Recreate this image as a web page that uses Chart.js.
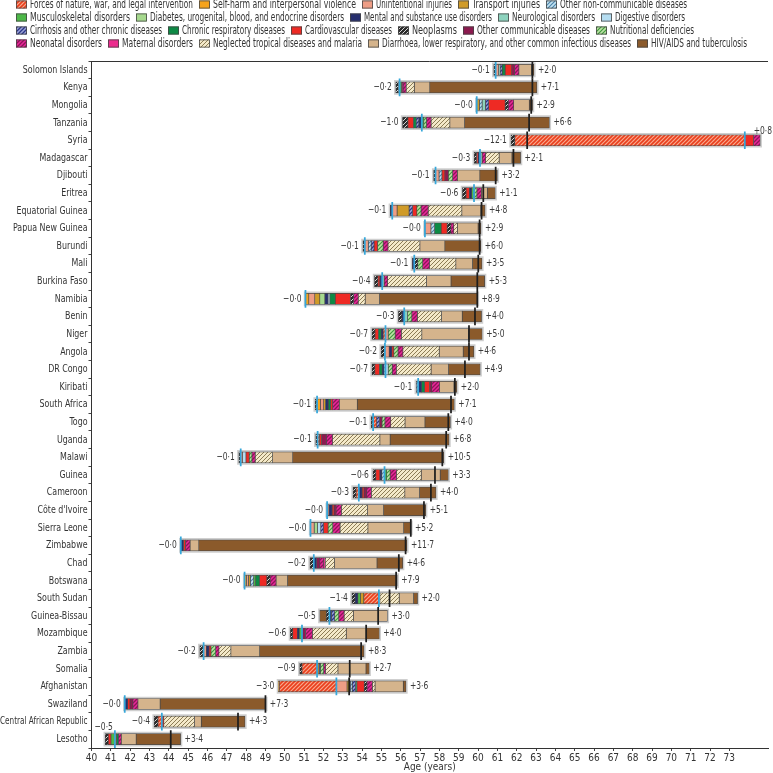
<!DOCTYPE html>
<html>
<head>
<meta charset="utf-8">
<script src="https://cdn.jsdelivr.net/npm/chart.js@4.4.0/dist/chart.umd.min.js"></script>
<style>
  html, body { margin: 0; padding: 0; background: #fff; }
  canvas { display: block; }
</style>
</head>
<body>
<canvas id="chart" width="773" height="773"></canvas>
<script>
// Countries, top to bottom
const countries = ['Solomon Islands', 'Kenya', 'Mongolia', 'Tanzania', 'Syria', 'Madagascar', 'Djibouti', 'Eritrea',
  'Equatorial Guinea', 'Papua New Guinea', 'Burundi', 'Mali', 'Burkina Faso', 'Namibia', 'Benin', 'Niger', 'Angola',
  'DR Congo', 'Kiribati', 'South Africa', 'Togo', 'Uganda', 'Malawi', 'Guinea', 'Cameroon', "Côte d'Ivoire",
  'Sierra Leone', 'Zimbabwe', 'Chad', 'Botswana', 'South Sudan', 'Guinea-Bissau', 'Mozambique', 'Zambia', 'Somalia',
  'Afghanistan', 'Swaziland', 'Central African Republic', 'Lesotho'];

// Reference age (blue marker) and observed age (black marker), years
const refAge = [60.91, 55.94, 59.93, 57.09, 73.8, 60.1, 57.8, 59.79, 55.56, 57.25, 54.14, 56.7, 55.04, 51.07, 56.18,
  55.21, 55.18, 55.21, 56.9, 51.67, 54.57, 51.7, 47.72, 55.16, 53.83, 52.19, 51.33, 44.62, 51.5, 47.92, 54.87, 52.31,
  50.89, 45.8, 51.67, 52.67, 41.72, 43.64, 41.21];
const observedAge = [62.81, 62.81, 62.75, 62.64, 62.54, 61.83, 60.91, 60.27, 60.18, 60.08, 60.08, 60.01, 59.96, 59.96,
  59.84, 59.53, 59.53, 59.32, 58.8, 58.6, 58.46, 58.35, 58.15, 57.77, 57.56, 57.2, 56.52, 56.25, 55.9, 55.76, 55.42,
  54.83, 54.21, 53.95, 53.36, 53.33, 49.0, 47.58, 44.1];

// Printed totals (left = negative, right = positive)
const lossTotal = [0.1, 0.2, 0.0, 1.0, 12.1, 0.3, 0.1, 0.6, 0.1, 0.0, 0.1, 0.1, 0.4, 0.0, 0.3, 0.7, 0.2, 0.7, 0.1, 0.1,
  0.1, 0.1, 0.1, 0.6, 0.3, 0.0, 0.0, 0.0, 0.2, 0.0, 1.4, 0.5, 0.6, 0.2, 0.9, 3.0, 0.0, 0.4, 0.5];
const gainTotal = [2.0, 7.1, 2.9, 6.6, 0.8, 2.1, 3.2, 1.1, 4.8, 2.9, 6.0, 3.5, 5.3, 8.9, 4.0, 5.0, 4.6, 4.9, 2.0, 7.1,
  4.0, 6.8, 10.5, 3.3, 4.0, 5.1, 5.2, 11.7, 4.6, 7.9, 2.0, 3.0, 4.0, 8.3, 2.7, 3.6, 7.3, 4.3, 3.4];

// Contribution of each cause, years (one value per country)
const forces = [0, 0, 0, 0, -11.9, 0, 0, 0, 0, 0, 0, 0, 0, 0, 0, -0.12, 0, 0, 0, 0, 0.18, 0.1, 0, 0, -0.14, 0, 0, 0, 0, 0, -0.78, 0, 0, 0, -0.78, -2.95, 0, -0.2, 0];
const selfHarm = [0, 0, 0, 0, 0, 0, 0, 0, 0, 0, 0, 0, 0, 0.17, 0, 0, 0, 0, 0, 0.17, 0, 0, 0, 0, 0, 0, 0, 0, 0, 0.1, 0, 0, 0, 0, 0, -0.05, 0, 0, 0];
const unintentional = [0.15, 0, 0, 0, 0, 0, 0.18, 0, 0.25, 0.31, 0.18, 0, 0, 0.31, 0, 0.14, 0.22, 0, 0, 0.17, 0, 0, 0.1, 0, 0, 0.09, 0.19, 0, 0, 0.1, 0, 0, 0, 0.14, 0, 0.55, 0, 0, 0];
const transport = [0, 0, 0.14, 0, 0, 0, 0, 0, 0.62, 0, 0, 0, 0, 0.26, 0, 0, 0, 0, 0, 0.1, 0, 0, 0, 0, 0, 0, 0, 0, 0, 0.1, -0.17, 0, 0, 0, 0.1, 0.17, 0, 0, 0.08];
const otherNcd = [0, -0.06, 0.14, 0, 0, 0, 0.15, 0, 0, 0.19, 0.15, 0, 0, 0, 0, 0, 0, -0.07, -0.1, 0, 0, 0, 0, -0.14, 0, 0, 0, 0, 0, 0.17, 0, 0, 0, 0, 0, 0.1, 0, 0, 0];
const musculoskeletal = [0, 0.1, 0, 0.1, 0, 0, 0, -0.12, 0, 0, 0, 0, 0, 0, 0, 0, 0, 0, 0, 0, 0, 0, 0, 0.11, 0, 0, 0, 0, 0, 0.1, -0.14, 0, -0.14, 0, 0, 0, 0, 0, -0.2];
const diabetes = [0, 0, 0, 0, 0, 0, 0, 0, 0, 0, 0, 0, 0, 0.26, 0, 0, 0, 0, 0, 0, 0, 0, 0, 0, 0, 0, 0.17, 0, 0, 0, 0, 0, 0, 0, 0, 0, 0, 0, 0];
const mental = [0, 0, 0, -0.15, 0, -0.1, 0, -0.12, -0.1, 0, 0, -0.1, -0.12, 0.17, -0.12, -0.1, 0.14, -0.1, 0.18, 0.14, 0, 0, 0, -0.1, 0.17, 0.17, 0, 0.14, 0.14, 0, -0.14, 0.1, -0.1, 0.14, 0.07, 0, 0.15, 0, 0];
const neurological = [0.08, 0, 0.17, 0, 0, 0.11, 0, 0, 0, 0, 0, 0, 0.1, 0, 0.17, 0, 0, 0, 0, 0, 0, 0, 0, 0, 0, 0, 0, 0, 0, 0, 0, 0, 0, 0, 0, 0, 0, 0, 0];
const digestive = [0, 0, 0, 0, 0, 0, 0, 0, 0, 0, 0, 0, 0, 0.09, 0, 0, 0, 0.14, 0, 0, 0, 0, 0.17, 0, 0, 0, 0.17, 0, 0, 0, 0.05, 0, 0, 0, 0, 0, 0, 0, 0];
const cirrhosis = [0.11, 0, 0.17, -0.14, 0, 0, 0, 0, 0.18, 0, 0.15, 0, 0, 0, 0, 0, 0, 0, 0, 0, 0.15, 0, 0, 0, 0, 0, 0.14, 0, 0, 0, 0, 0.17, 0, 0, 0, 0.17, 0, 0, 0];
const chronicResp = [0.15, 0, 0, -0.14, 0, 0, 0, 0, 0, 0.34, 0, 0, 0, 0.28, 0, -0.14, 0, -0.14, 0.15, 0.12, 0, 0, 0, 0, 0, 0, 0, 0, 0, 0.2, 0, 0, 0, 0, 0, 0.07, 0, 0, 0.1];
const cardiovascular = [0.34, 0, 0.85, -0.29, 0.45, -0.08, 0.15, -0.17, 0.22, 0.31, 0.18, 0, -0.1, 0.79, 0, -0.18, 0.1, -0.24, 0.26, 0.1, 0, 0.1, 0.17, -0.21, 0.1, 0.1, 0.24, 0.1, 0, 0.38, 0, 0, -0.24, 0.1, 0, 0.38, 0.12, 0.1, -0.14];
const neoplasms = [-0.1, -0.14, 0.16, -0.28, -0.2, -0.12, -0.1, -0.19, 0, 0.19, -0.1, 0.18, -0.18, 0.16, -0.18, -0.16, -0.2, -0.15, 0, -0.1, -0.1, -0.1, -0.1, -0.15, -0.16, 0, 0, 0, -0.2, 0.17, -0.17, -0.16, -0.12, -0.2, -0.12, 0.14, 0, -0.2, -0.16];
const otherCommunicable = [0.15, 0.08, 0, 0, 0, 0, 0.18, 0, 0, 0, 0, 0, 0, 0, 0, 0, 0, 0, 0.11, 0, 0.13, 0.25, 0, 0, 0.14, 0.1, 0, 0, 0.17, 0, 0, 0, 0.18, 0, 0, 0, 0.15, 0, 0];
const nutritional = [0, 0, 0, 0.14, 0, 0, 0.22, 0.15, 0.22, 0, 0.29, 0.25, 0, 0, 0.22, 0.36, 0.22, 0.21, 0, 0, 0.15, 0, 0.14, 0.18, 0, 0, 0.24, 0, 0, 0, 0, 0.21, 0, 0.24, 0.17, 0, 0, 0, 0];
const neonatal = [0.22, 0.16, 0.28, 0.24, 0.35, 0.18, 0.25, 0.23, 0.37, 0.15, 0.25, 0.36, 0.18, 0.24, 0.29, 0.32, 0.25, 0.21, 0.41, 0.35, 0.3, 0.32, 0.17, 0.33, 0.24, 0.28, 0.38, 0.24, 0.2, 0.31, 0, 0.28, 0.36, 0.17, 0.1, 0.28, 0.26, 0, 0.15];
const maternal = [0, 0, 0, 0, 0, 0, 0, 0, 0, 0, 0, 0, 0, 0, 0, 0, 0, 0, 0, 0, 0, 0, 0, 0, 0, 0, 0, 0, 0.08, 0, 0, 0, 0, 0, 0, 0, 0, 0, 0];
const tropical = [0, 0.42, 0, 0.97, 0, 0.7, 0, 0, 1.74, 0.19, 1.65, 1.36, 2.01, 0.36, 1.25, 1.06, 1.88, 1.8, 0, 0, 0.74, 2.45, 0.9, 1.28, 1.73, 1.35, 1.44, 0, 0.48, 0, 1.0, 0.48, 1.75, 0.62, 0.64, 0.14, 0, 1.59, 0];
const diarrhoea = [0.65, 0.8, 0.81, 0.76, 0, 0.66, 1.16, 0.31, 0.98, 1.07, 1.29, 0.86, 1.27, 0.74, 1.07, 2.42, 1.24, 0.9, 0.74, 0.93, 1.03, 0.53, 1.04, 0.98, 0.76, 0.83, 1.85, 0.45, 2.2, 0.59, 0.74, 1.76, 1.03, 1.49, 1.45, 1.46, 1.15, 0.35, 0.77];
const hivTb = [0.13, 5.54, 0.17, 4.39, 0, 0.45, 0.91, 0.41, 0.22, 0.15, 1.86, 0.49, 1.74, 5.07, 1.0, 0.7, 0.55, 1.64, 0.15, 5.02, 1.32, 3.05, 7.81, 0.42, 0.85, 2.18, 0.38, 10.77, 1.33, 5.68, 0.21, -0.34, 0.68, 5.4, 0.17, 0.14, 5.47, 2.26, 2.3];

const FONT = "'DejaVu Sans Condensed', 'DejaVu Sans', sans-serif";
const ctx = document.getElementById('chart').getContext('2d');

// Diagonal hatch fill
function hatch(bg, fg, lw, gap) {
  const c = document.createElement('canvas');
  c.width = c.height = gap;
  const g = c.getContext('2d');
  g.fillStyle = bg;
  g.fillRect(0, 0, gap, gap);
  g.strokeStyle = fg;
  g.lineWidth = lw;
  g.beginPath();
  g.moveTo(-1, gap + 1); g.lineTo(gap + 1, -1);
  g.moveTo(-gap / 2 - 1, gap / 2 + 1); g.lineTo(gap / 2 + 1, -gap / 2 - 1);
  g.moveTo(gap / 2 - 1, gap * 1.5 + 1); g.lineTo(gap * 1.5 + 1, gap / 2 - 1);
  g.stroke();
  return ctx.createPattern(c, 'repeat');
}

// Causes in legend / stacking order
const causes = [
  { label: 'Forces of nature, war, and legal intervention', values: forces, fill: hatch('#F8A98E', '#EA3E1C', 1.6, 4) },
  { label: 'Self-harm and interpersonal violence', values: selfHarm, fill: '#F6A31B' },
  { label: 'Unintentional injuries', values: unintentional, fill: '#EE9D85' },
  { label: 'Transport injuries', values: transport, fill: '#D09B28' },
  { label: 'Other non-communicable diseases', values: otherNcd, fill: hatch('#C4E3F2', '#4E86AC', 1.2, 4) },
  { label: 'Musculoskeletal disorders', values: musculoskeletal, fill: '#4DB848' },
  { label: 'Diabetes, urogenital, blood, and endocrine disorders', values: diabetes, fill: '#A6D98E' },
  { label: 'Mental and substance use disorders', values: mental, fill: '#262E6E' },
  { label: 'Neurological disorders', values: neurological, fill: '#8DD3BE' },
  { label: 'Digestive disorders', values: digestive, fill: '#B5DDF1' },
  { label: 'Cirrhosis and other chronic diseases', values: cirrhosis, fill: hatch('#9DA3D6', '#2A3589', 1.3, 4) },
  { label: 'Chronic respiratory diseases', values: chronicResp, fill: '#0D8A45' },
  { label: 'Cardiovascular diseases', values: cardiovascular, fill: '#EE2A24' },
  { label: 'Neoplasms', values: neoplasms, fill: hatch('#2B2B2B', '#D8D8D8', 1.0, 4) },
  { label: 'Other communicable diseases', values: otherCommunicable, fill: '#8C1A4F' },
  { label: 'Nutritional deficiencies', values: nutritional, fill: hatch('#BDE2A6', '#3F9A3C', 1.2, 4) },
  { label: 'Neonatal disorders', values: neonatal, fill: hatch('#E8289A', '#8E1457', 1.3, 4) },
  { label: 'Maternal disorders', values: maternal, fill: '#EC2C8E' },
  { label: 'Neglected tropical diseases and malaria', values: tropical, fill: hatch('#F4E9C9', '#8C7C55', 1.0, 4) },
  { label: 'Diarrhoea, lower respiratory, and other common infectious diseases', values: diarrhoea, fill: '#D5B48C' },
  { label: 'HIV/AIDS and tuberculosis', values: hivTb, fill: '#8B5A2B' }
];

// Diverging stacks around the reference age
const extents = [];
const segments = causes.map(() => countries.map(() => null));
countries.forEach((name, i) => {
  let hi = refAge[i], lo = refAge[i];
  causes.forEach((cause, k) => {
    const v = cause.values[i];
    if (v > 0) { segments[k][i] = [hi, hi + v]; hi += v; }
    else if (v < 0) { segments[k][i] = [lo + v, lo]; lo += v; }
  });
  extents.push([lo, hi]);
});

const datasets = causes.map((cause, k) => ({
  label: cause.label,
  data: segments[k],
  backgroundColor: cause.fill,
  borderColor: '#4a4a4a',
  borderWidth: 0.7,
  borderSkipped: false,
  barThickness: 11,
  order: 2
}));

// grey frame behind each bar
datasets.push({
  label: 'frame',
  data: extents.map(e => [e[0] - 0.07, e[1] + 0.07]),
  backgroundColor: '#cfcfcf',
  borderWidth: 0,
  barThickness: 14,
  order: 3
});
// markers
datasets.push({
  label: 'reference',
  data: refAge.map(a => [a - 0.028, a + 0.028]),
  backgroundColor: '#35A7DA',
  borderWidth: 0,
  barThickness: 17,
  order: 1
});
datasets.push({
  label: 'observed',
  data: observedAge.map(a => [a - 0.028, a + 0.028]),
  backgroundColor: '#1e1e1e',
  borderWidth: 0,
  barThickness: 17,
  order: 0
});

const fmt = v => v.toFixed(1).replace('.', '·');

// narrow text helper (squeezes the glyphs to mimic a condensed face)
function narrowText(c, text, x, y, squeeze, limit) {
  let w = c.measureText(text).width * squeeze;
  if (limit && w > limit) w = limit;
  c.fillText(text, x, y, w);
}

// Legend layout: [x, row]; rows end at rowEnds
const legendSpots = [
  [16, 0], [199, 0], [362, 0], [458, 0], [546, 0],
  [16, 1], [136, 1], [350, 1], [498, 1], [601, 1],
  [16, 2], [168, 2], [291, 2], [398, 2], [463, 2], [596, 2],
  [16, 3], [108, 3], [199, 3], [368, 3], [637, 3]
];
const rowEnds = [687, 685, 694, 747];

const decorPlugin = {
  id: 'decor',
  afterDraw(chart) {
    const c = chart.ctx;
    const area = chart.chartArea;
    const xs = chart.scales.x, ys = chart.scales.y;
    c.save();

    // top frame line
    c.strokeStyle = '#333';
    c.lineWidth = 1;
    c.beginPath();
    c.moveTo(area.left, area.top + 0.5);
    c.lineTo(area.right, area.top + 0.5);
    c.stroke();

    c.textBaseline = 'middle';

    // country names
    c.font = '11px ' + FONT;
    c.fillStyle = '#333';
    c.textAlign = 'right';
    countries.forEach((name, i) => {
      narrowText(c, name, area.left - 4, ys.getPixelForValue(i), 0.8, area.left - 4);
    });

    // totals
    c.font = '10.5px ' + FONT;
    c.fillStyle = '#3a3a3a';
    countries.forEach((name, i) => {
      const y = ys.getPixelForValue(i);
      const left = '−' + fmt(lossTotal[i]);
      const right = '+' + fmt(gainTotal[i]);
      const x0 = xs.getPixelForValue(extents[i][0]) - 4;
      const x1 = xs.getPixelForValue(extents[i][1]) + 4;
      const wl = c.measureText(left).width * 0.8;
      const wr = c.measureText(right).width * 0.8;
      if (x0 - wl < area.left) {
        c.textAlign = 'left';
        narrowText(c, left, area.left + 3, y - 12, 0.8);
      } else {
        c.textAlign = 'right';
        narrowText(c, left, x0, y, 0.8);
      }
      if (x1 + wr > chart.width) {
        c.textAlign = 'right';
        narrowText(c, right, chart.width - 1, y - 9, 0.8);
      } else {
        c.textAlign = 'left';
        narrowText(c, right, x1, y, 0.8);
      }
    });

    // legend
    c.font = '12px ' + FONT;
    c.textAlign = 'left';
    legendSpots.forEach((spot, k) => {
      const [x, row] = spot;
      const y = 4.5 + row * 13;
      c.fillStyle = causes[k].fill;
      c.fillRect(x, y - 4, 11, 8);
      c.strokeStyle = '#444';
      c.lineWidth = 0.8;
      c.strokeRect(x + 0.4, y - 3.6, 10.2, 7.2);
      const next = legendSpots[k + 1];
      const maxW = next && next[1] === row ? next[0] - x - 20 : rowEnds[row] - x - 14;
      c.fillStyle = '#333';
      narrowText(c, causes[k].label, x + 14, y + 0.5, 1, maxW);
    });
    c.restore();
  }
};

new Chart(ctx, {
  type: 'bar',
  data: { labels: countries, datasets: datasets },
  plugins: [decorPlugin],
  options: {
    indexAxis: 'y',
    responsive: false,
    animation: false,
    layout: { padding: { top: 61, right: 5, bottom: 0, left: 0 } },
    datasets: { bar: { grouped: false } },
    plugins: {
      legend: { display: false },
      tooltip: { enabled: false }
    },
    scales: {
      x: {
        type: 'linear',
        min: 40,
        max: 75,
        afterFit: scale => { scale.height = 25; },
        afterBuildTicks: scale => {
          scale.ticks = scale.ticks.filter(t => t.value <= 73);
        },
        ticks: {
          stepSize: 1,
          autoSkip: false,
          maxRotation: 0,
          padding: 1,
          color: '#333',
          font: { family: FONT, size: 10 }
        },
        grid: { drawOnChartArea: false, tickLength: 3, color: '#444' },
        border: { color: '#333', width: 1 },
        title: {
          display: true,
          text: 'Age (years)',
          color: '#333',
          padding: 0,
          font: { family: FONT, size: 10 }
        }
      },
      y: {
        type: 'category',
        offset: true,
        afterFit: scale => { scale.width = 91.5; },
        ticks: { display: false, autoSkip: false },
        grid: { offset: true, drawOnChartArea: false, tickLength: 3, color: '#444' },
        border: { color: '#333', width: 1 }
      }
    }
  }
});
</script>
</body>
</html>
